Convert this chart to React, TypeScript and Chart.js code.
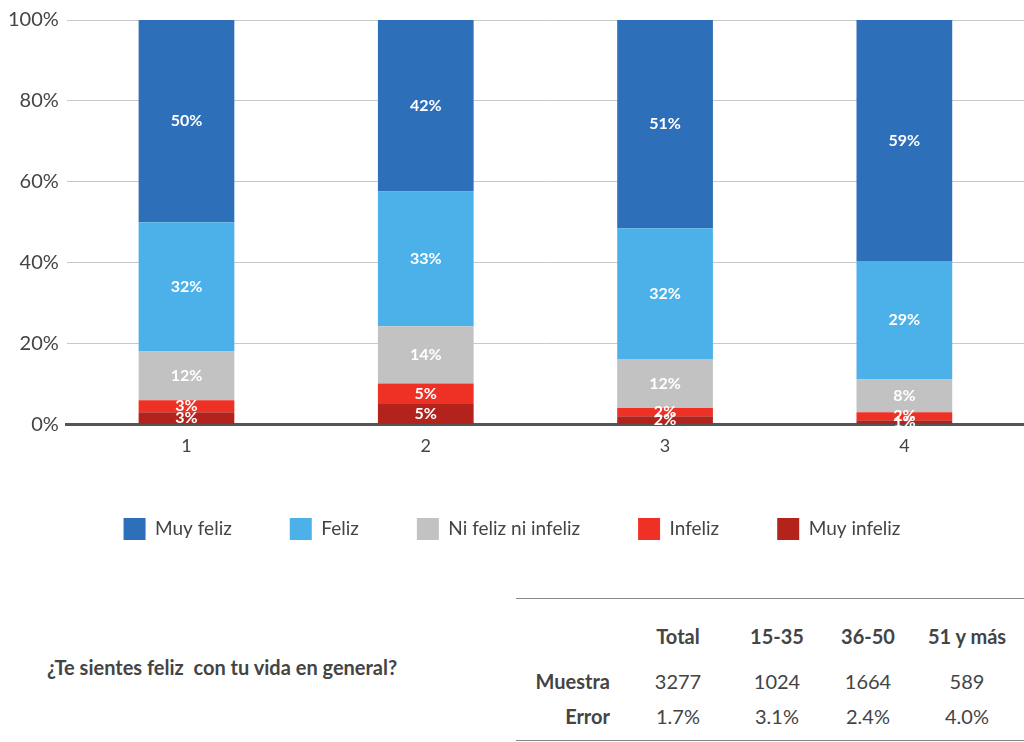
import React, { useEffect, useRef } from "react";
import { Chart, registerables } from "chart.js";
Chart.register(...registerables);

const categories = ["1", "2", "3", "4"];
const seriesNames = ["Muy feliz", "Feliz", "Ni feliz ni infeliz", "Infeliz", "Muy infeliz"];
const muyFeliz = [50, 42, 51, 59];
const feliz = [32, 33, 32, 29];
const ni = [12, 14, 12, 8];
const infeliz = [3, 5, 2, 2];
const muyInfeliz = [3, 5, 2, 1];
const colors = ["#2e6fba", "#4cb1e9", "#c2c2c2", "#ee3124", "#b3231c"];
const yTicks = ["0%", "20%", "40%", "60%", "80%", "100%"];
const tableHeaders = ["Total", "15-35", "36-50", "51 y más"];
const muestra = ["3277", "1024", "1664", "589"];
const errorRow = ["1.7%", "3.1%", "2.4%", "4.0%"];

const FONT = "Lato, 'Open Sans', sans-serif";

export default function App() {
  const ref = useRef<HTMLCanvasElement>(null);
  useEffect(() => {
    document.body.style.margin = "0";
    const raw = [muyFeliz, feliz, ni, infeliz, muyInfeliz];
    const totals = categories.map((_, i) => raw.reduce((s, a) => s + a[i], 0));
    const order = [4, 3, 2, 1, 0];
    const datasets = order.map((k) => ({
      label: seriesNames[k],
      data: raw[k].map((v, i) => (v / totals[i]) * 100),
      raw: raw[k],
      backgroundColor: colors[k],
      barPercentage: 0.4,
      categoryPercentage: 1,
    }));
    const labelPlugin = {
      id: "lbl",
      afterDatasetsDraw(chart: any) {
        const ctx = chart.ctx;
        ctx.save();
        ctx.fillStyle = "#fff";
        ctx.font = `bold 16px ${FONT}`;
        ctx.textAlign = "center";
        ctx.textBaseline = "middle";
        chart.data.datasets.forEach((ds: any, di: number) => {
          chart.getDatasetMeta(di).data.forEach((el: any, i: number) => {
            const y = (el.y + el.base) / 2;
            ctx.fillText(ds.raw[i] + "%", el.x, y);
          });
        });
        ctx.restore();
      },
    };
    const c = new Chart(ref.current!, {
      type: "bar",
      data: { labels: categories, datasets: datasets as any },
      plugins: [labelPlugin],
      options: {
        animation: false,
        responsive: false,
        layout: { padding: { top: 0, right: 0, left: 0 } },
        plugins: {
          tooltip: { enabled: false },
          legend: {
            position: "bottom",
            labels: {
              boxWidth: 22,
              boxHeight: 22,
              padding: 58,
              color: "#444",
              font: { family: FONT, size: 19 },
              sort: (a: any, b: any) => b.datasetIndex - a.datasetIndex,
            },
          },
        },
        scales: {
          x: {
            stacked: true,
            grid: { display: false },
            border: { color: "#555", width: 3 },
            ticks: { color: "#444", font: { family: FONT, size: 18 } },
          },
          y: {
            stacked: true,
            min: 0,
            max: 100,
            grid: { color: "#c8c8c8", drawTicks: false },
            border: { display: false },
            ticks: {
              stepSize: 20,
              padding: 8,
              color: "#444",
              font: { family: FONT, size: 20 },
              callback: (v: any) => yTicks[Math.round(v / 20)],
            },
          },
        },
      },
    });
    return () => c.destroy();
  }, []);

  const cell: React.CSSProperties = { position: "absolute", fontFamily: FONT, fontSize: 20, color: "#444", textAlign: "center", width: 120 };
  const cols = [678, 777, 868, 967];
  return (
    <div style={{ position: "relative", width: 1024, height: 742 }}>
      <canvas ref={ref} width={1024} height={550} style={{ display: "block" }} />
      <div style={{ position: "absolute", left: 516, top: 598, width: 508, borderTop: "1px solid #888" }} />
      <div style={{ position: "absolute", left: 516, top: 740, width: 508, borderTop: "1px solid #888" }} />
      {tableHeaders.map((h, i) => (
        <div key={h} style={{ ...cell, left: cols[i] - 60, top: 624, fontWeight: "bold" }}>{h}</div>
      ))}
      {muestra.map((h, i) => (
        <div key={"m" + i} style={{ ...cell, left: cols[i] - 60, top: 669 }}>{h}</div>
      ))}
      {errorRow.map((h, i) => (
        <div key={"e" + i} style={{ ...cell, left: cols[i] - 60, top: 704 }}>{h}</div>
      ))}
      <div style={{ ...cell, left: 490, width: 120, textAlign: "right", top: 669, fontWeight: "bold" }}>Muestra</div>
      <div style={{ ...cell, left: 490, width: 120, textAlign: "right", top: 704, fontWeight: "bold" }}>Error</div>
      <div style={{ ...cell, left: 47, width: 420, textAlign: "left", top: 655, fontWeight: "bold" }}>¿Te sientes feliz&nbsp; con tu vida en general?</div>
    </div>
  );
}
